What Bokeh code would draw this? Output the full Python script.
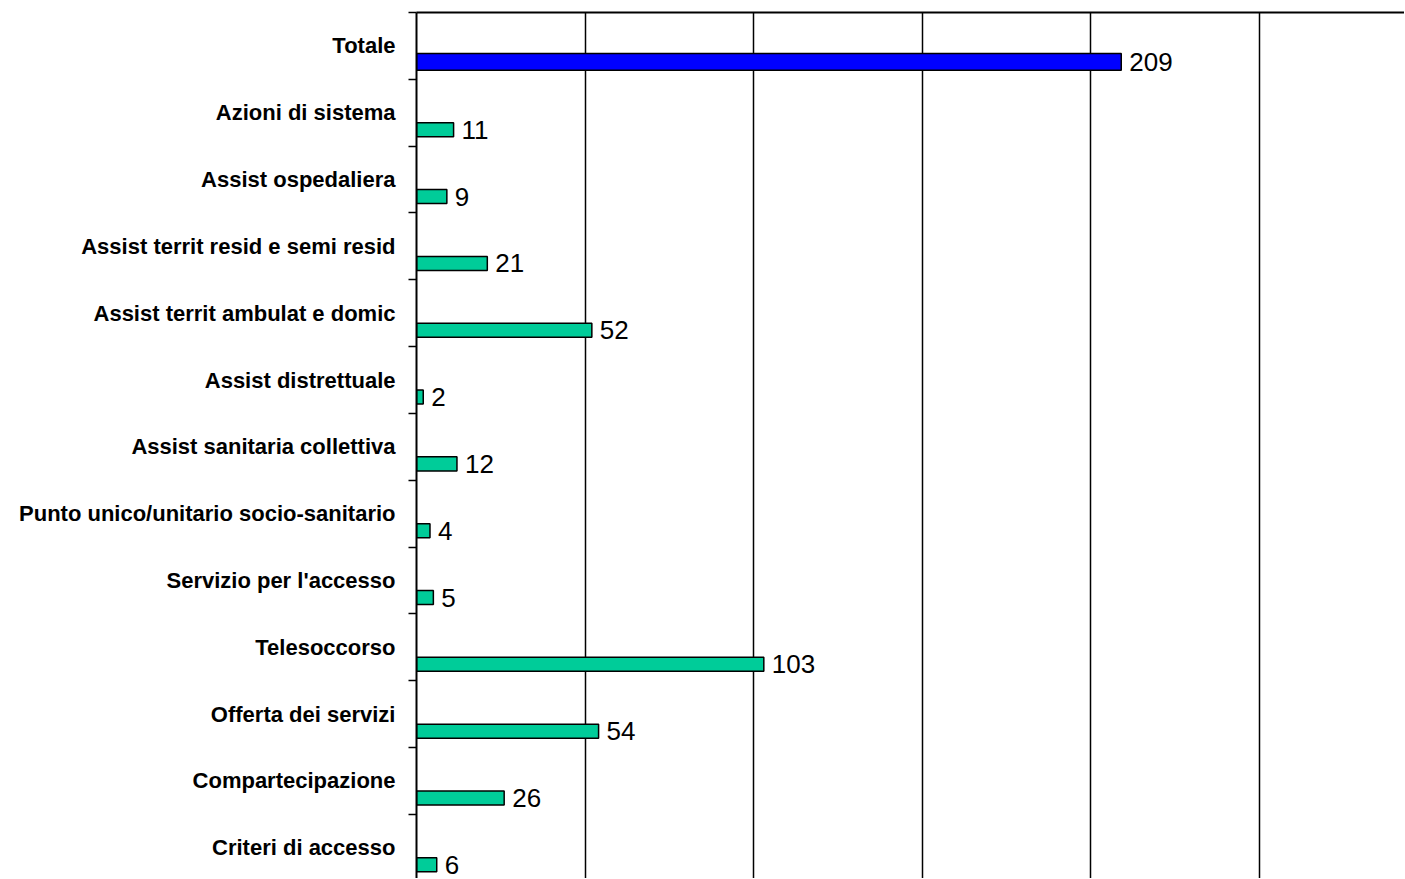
from bokeh.plotting import figure
from bokeh.models import ColumnDataSource, Range1d, FixedTicker
from bokeh.core.properties import value
from bokeh.embed import file_html
from bokeh.resources import INLINE

categories = [
    "Totale",
    "Azioni di sistema",
    "Assist ospedaliera",
    "Assist territ resid e semi resid",
    "Assist territ ambulat e domic",
    "Assist distrettuale",
    "Assist sanitaria collettiva",
    "Punto unico/unitario socio-sanitario",
    "Servizio per l'accesso",
    "Telesoccorso",
    "Offerta dei servizi",
    "Compartecipazione",
    "Criteri di accesso",
]
values = [209, 11, 9, 21, 52, 2, 12, 4, 5, 103, 54, 26, 6]
x_ticks = [0, 50, 100, 150, 200, 250]

n = len(categories)
centers = [i + 0.5 for i in range(n)]
bounds = list(range(n + 1))

total_src = ColumnDataSource(dict(
    pos=[0 + 0.74], val=[values[0]], label=[str(values[0])]))
other_src = ColumnDataSource(dict(
    pos=[i + 0.755 for i in range(1, n)], val=values[1:],
    label=[str(v) for v in values[1:]]))

p = figure(frame_width=988, frame_height=866,
           x_range=Range1d(0, 293), y_range=Range1d(12.96, 0),
           x_axis_location="above",
           output_backend="svg", toolbar_location=None,
           min_border_left=416, min_border_right=0,
           min_border_top=12, min_border_bottom=0)
p.outline_line_color = None
p.background_fill_color = "white"
p.border_fill_color = "white"

# x axis (top): only the line; gridlines use their own ticker
p.xaxis.ticker = FixedTicker(ticks=[])
p.xaxis.major_label_standoff = 0
p.xaxis.major_tick_out = 0
p.xaxis.major_tick_in = 0
p.xaxis.minor_tick_out = 0
p.xaxis.minor_tick_in = 0
p.xaxis.axis_line_color = "black"
p.xaxis.axis_line_width = 2
p.xgrid.ticker = FixedTicker(ticks=x_ticks)
p.xgrid.grid_line_color = "black"
p.xgrid.grid_line_width = 1.5
p.ygrid.visible = False

# y axis: labels at centers, ticks at boundaries
p.yaxis.ticker = FixedTicker(ticks=centers, minor_ticks=bounds)
p.yaxis.major_label_overrides = {c: name for c, name in zip(centers, categories)}
p.yaxis.major_tick_out = 0
p.yaxis.major_tick_in = 0
p.yaxis.minor_tick_out = 8
p.yaxis.minor_tick_in = 0
p.yaxis.minor_tick_line_color = "black"
p.yaxis.minor_tick_line_width = 1.5
p.yaxis.axis_line_color = "black"
p.yaxis.axis_line_width = 2
p.yaxis.major_label_standoff = 13
p.yaxis.major_label_text_font = "Liberation Sans"
p.yaxis.major_label_text_font_style = "bold"
p.yaxis.major_label_text_font_size = "22px"
p.yaxis.major_label_text_color = "black"

p.hbar(y="pos", left=0, right="val", height=0.25, source=total_src,
       fill_color="#0000FF", line_color="black", line_width=1.5)
p.hbar(y="pos", left=0, right="val", height=0.21, source=other_src,
       fill_color="#00CC99", line_color="black", line_width=1.5)

for src in (total_src, other_src):
    p.text(x="val", y="pos", text="label", source=src, x_offset=8,
           text_baseline="middle", text_align="left",
           text_font=value("Liberation Sans"), text_font_size="26px",
           text_color="black")

open("out.html", "w").write(file_html(p, INLINE))
